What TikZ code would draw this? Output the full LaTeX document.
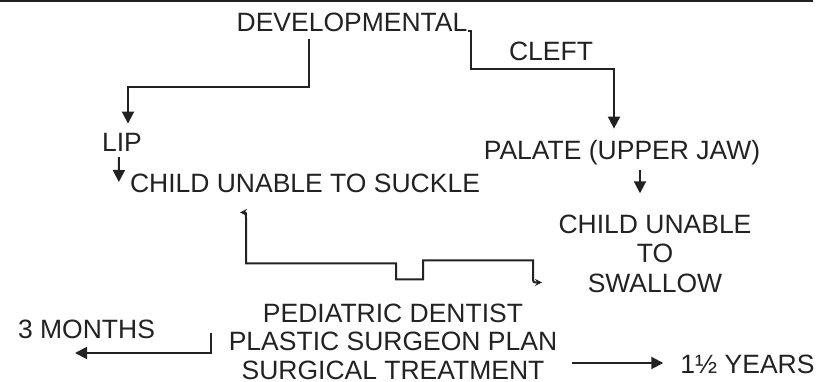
\documentclass[tikz,border=0pt]{standalone}
\usepackage{fontspec}
\setmainfont{Liberation Sans}
\usetikzlibrary{arrows.meta}
\definecolor{ink}{RGB}{34,34,34}
\begin{document}
\begin{tikzpicture}[x=1pt,y=-1pt,
  lbl/.style={inner sep=0pt, anchor=base, text=ink, font=\fontsize{26.5}{29.5}\selectfont, align=center},
  conn/.style={draw=ink, line width=2pt},
  bighead/.style={-{Triangle[length=12pt,width=12pt]}},
  hookheads/.style={{Stealth[length=7pt,width=7pt]}-{Stealth[length=7pt,width=7pt]}},
  rule/.style={draw=ink, line width=2pt}
]
\useasboundingbox (0,0) rectangle (827,382);
\draw[rule] (0,1) -- (813,1);

\node[lbl] (dev) at (352,32) {DEVELOPMENTAL};
\node[lbl] (cleft) at (551,61) {CLEFT};
\node[lbl] (lip) at (122,152) {LIP};
\node[lbl] (suckle) at (305,193) {CHILD UNABLE TO SUCKLE};
\node[lbl] (palate) at (622,160) {PALATE (UPPER JAW)};
\node[lbl, font=\fontsize{26.5}{29.5}\selectfont] (swallow) at (655,292) {CHILD UNABLE\\TO\\SWALLOW};
\node[lbl, font=\fontsize{26.5}{28.5}\selectfont] (plan) at (393,379) {PEDIATRIC DENTIST\\PLASTIC SURGEON PLAN\\SURGICAL TREATMENT};
\node[lbl] (months) at (86.5,338) {3 MONTHS};
\node[lbl] (years) at (747.5,373) {1½ YEARS};

% developmental -> lip
\draw[conn,bighead] ([xshift=-43pt,yshift=-7pt]dev.south) -- ++(0,48) -| ([xshift=6pt,yshift=10pt]lip.north);
% developmental -> palate
\draw[conn,bighead] ([yshift=1pt]dev.base east) -- ++(3,0) -- ++(0,38) -| ([xshift=-8pt,yshift=12pt]palate.north);
% lip -> suckle
\draw[conn,bighead] ([xshift=-3pt,yshift=-5pt]lip.south) -- ([xshift=-11pt,yshift=11pt]suckle.base west);
% palate -> swallow
\draw[conn,bighead] ([xshift=18pt,yshift=-4pt]palate.south) -- ([xshift=-15pt,yshift=21pt]swallow.north);
% suckle <-> swallow
\draw[conn,hookheads] ([xshift=-65pt,yshift=-19pt]suckle.south) .. controls +(6,0) .. ++(6,6)
  -- ++(0,45) -- ++(150,0) -- ++(0,16) -- ++(27,0) -- ++(0,-19) -- ++(110,0) -- ++(0,16)
  .. controls +(0,6) .. ++(9,6);
% plan -> 3 months
\draw[conn,bighead] ([xshift=-182pt,yshift=46pt]plan.base) |- ([xshift=-11.5pt,yshift=-15pt]months.base);
% plan -> 1 1/2 years
\draw[conn,bighead] ([xshift=179pt,yshift=16pt]plan.base) -- ([xshift=-17pt,yshift=10pt]years.base west);
\end{tikzpicture}
\end{document}
